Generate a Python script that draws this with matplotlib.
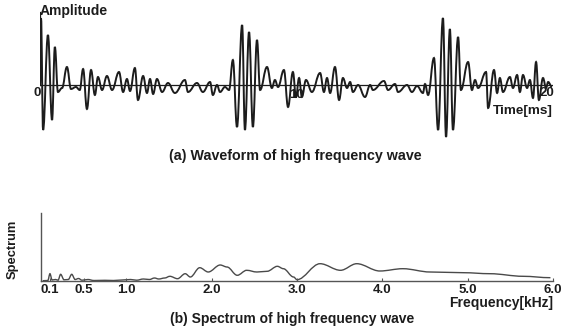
import matplotlib
matplotlib.use("Agg")
import matplotlib.pyplot as plt
from matplotlib.path import Path
from matplotlib.patches import PathPatch

# ---- (a) waveform: extremes (time ms, amplitude a.u.) ----
wave_t = [0.0, 0.04, 0.12, 0.31, 0.47, 0.58, 0.70, 0.86, 1.05, 1.21, 1.40, 1.55,
          1.68, 1.83, 1.99, 2.14, 2.26, 2.42, 2.61, 2.81, 3.08, 3.24, 3.39, 3.51,
          3.70, 3.82, 4.02, 4.17, 4.29, 4.41, 4.56, 4.76, 4.99, 5.26, 5.65, 5.77,
          6.12, 6.35, 6.63, 6.74, 6.90, 7.02, 7.21, 7.37,
          7.52, 7.68, 7.88, 7.99, 8.15, 8.30, 8.46, 8.58, 8.85, 9.04, 9.16, 9.28,
          9.51, 9.67, 9.86, 9.98, 10.10, 10.21, 10.37, 10.60, 10.92, 11.07, 11.19,
          11.31, 11.50, 11.66, 11.81, 11.97, 12.09, 12.20, 12.40, 12.67, 12.87,
          12.98, 13.41, 13.57, 13.84, 13.96, 14.31, 14.50, 14.70, 14.93, 15.01,
          15.13, 15.36, 15.52, 15.71, 15.83, 15.98, 16.10, 16.30, 16.41, 16.69,
          16.84, 16.96, 17.08, 17.39, 17.47, 17.70, 17.82, 17.93, 18.05, 18.32,
          18.44, 18.60, 18.71, 18.83, 18.99, 19.10, 19.22, 19.34, 19.45, 19.61,
          19.73, 19.81, 19.96]
wave_a = [0.0, 6.7, -4.5, 5.0, -3.5, 3.8, -0.7, -0.3, 1.8, -0.4, -0.2, -0.5,
          1.6, -2.4, 1.5, -1.0, 0.8, -0.5, 0.9, -0.5, 1.3, -0.7, 0.6, -0.6,
          1.7, -1.5, 0.9, -0.8, 0.6, -0.9, 0.6, -0.7, 0.2, -0.8, 0.5, -0.7,
          0.2, -0.7, 0.3, -1.0, 0.0, -0.7, -0.2, -0.5,
          2.5, -4.2, 6.0, -4.5, 5.3, -4.2, 4.5, -0.5, 1.8, -0.3, 0.5, -0.2,
          1.5, -2.2, 1.3, -1.2, 0.7, -1.2, 0.5, -0.7, 1.2, -0.7, 0.7,
          -0.8, 1.8, -1.5, 0.7, -0.3, 0.3, -0.7, 0.0, -1.2, 0.0,
          -0.5, 0.4, -0.5, 0.1, -0.7, 0.0, -0.7, -0.1, -0.8, 0.1,
          -1.0, 2.7, -4.5, 6.7, -5.2, 5.6, -4.5, 4.8, -0.5, 2.3,
          -0.5, 0.5, -0.3, 1.3, -2.3, 1.5, -0.8, 0.7, -0.7, 0.8,
          -0.3, 1.0, -0.7, 1.0, -0.3, 0.5, -1.3, 2.3, -1.5, 0.7,
          -0.3, 0.3, -0.2]

# ---- (b) spectrum (frequency kHz, level a.u.) ----
spec_f = [0.02, 0.08, 0.105, 0.13, 0.17, 0.20, 0.23, 0.27, 0.32, 0.36, 0.40, 0.44,
          0.48, 0.55, 0.62, 0.75, 0.85, 0.95, 1.05, 1.12, 1.20, 1.27, 1.33, 1.38,
          1.45, 1.51, 1.60, 1.69, 1.75, 1.86, 1.96, 2.10, 2.18, 2.30, 2.41, 2.53,
          2.65, 2.77, 2.84, 2.96, 3.00, 3.27, 3.51, 3.70, 3.97, 4.24, 4.56, 4.95,
          5.26, 5.65, 5.97]
spec_v = [0.3, 0.5, 7.3, 1.0, 1.5, 0.8, 6.7, 1.2, 1.5, 6.7, 1.5, 2.5,
          0.8, 1.5, 0.5, 0.7, 0.5, 1.0, 1.5, 0.8, 2.0, 1.5, 3.0, 2.0,
          3.0, 4.7, 2.3, 7.3, 4.0, 13.3, 9.0, 16.0, 14.0, 5.7, 10.7, 9.0,
          9.7, 14.7, 12.3, 4.0, 1.3, 17.3, 10.7, 17.3, 10.0, 12.3, 9.0, 8.3,
          7.3, 4.7, 3.3]

freq_ticks = [0.1, 0.5, 1.0, 2.0, 3.0, 4.0, 5.0, 6.0]
freq_labels = ["0.1", "0.5", "1.0", "2.0", "3.0", "4.0", "5.0", "6.0"]

W, H = 564, 331
INK = "#1c1c1c"
FONT = "Liberation Sans"


def smooth_path(xs, ys, k=0.4):
    # cubic segments with flat tangents at every extreme
    verts = [(xs[0], ys[0])]
    codes = [Path.MOVETO]
    for i in range(1, len(xs)):
        dx = xs[i] - xs[i - 1]
        verts += [(xs[i - 1] + k * dx, ys[i - 1]), (xs[i] - k * dx, ys[i]), (xs[i], ys[i])]
        codes += [Path.CURVE4] * 3
    return Path(verts, codes)


def ftext(x, y, s, **kw):
    fig.text(x / W, 1 - y / H, s, family=FONT, fontweight="bold", color=INK, **kw)


fig = plt.figure(figsize=(W / 100, H / 100), dpi=100)

# ---------- (a) waveform ----------
ax1 = fig.add_axes([40 / W, 1 - 145 / H, 513 / W, 140 / H])
ax1.set_xlim(0, 20)
ax1.set_ylim(-6, 8)
ax1.axis("off")
ax1.plot([-0.15, 20.0], [0, 0], color=INK, lw=0.9)
ax1.plot([0, 0], [0, 7.3], color=INK, lw=0.9)
ax1.add_patch(PathPatch(smooth_path(wave_t, wave_a), fill=False, ec=INK, lw=1.4))
ax1.text(-0.1, -0.25, "0", ha="center", va="top", fontsize=9.5, family=FONT,
         fontweight="bold", color=INK)
ax1.text(10.0, -0.35, "10", ha="center", va="top", fontsize=9.5, family=FONT,
         fontweight="bold", color=INK)
ax1.text(19.75, -0.15, "20", ha="center", va="top", fontsize=9.5, family=FONT,
         fontweight="bold", color=INK)

ftext(40, 11, "Amplitude", ha="left", va="center", fontsize=10)
ftext(553, 111, "Time[ms]", ha="right", va="center", fontsize=9.7)
ftext(295, 156, "(a) Waveform of high frequency wave", ha="center", va="center", fontsize=10.3)

# ---------- (b) spectrum ----------
ax2 = fig.add_axes([41 / W, 1 - 281 / H, 512 / W, 68 / H])
ax2.set_xlim(0, 6)
ax2.set_ylim(0, 68)
ax2.add_patch(PathPatch(smooth_path(spec_f, spec_v, k=0.35), fill=False, ec="#4a4a4a", lw=1.0))
for s in ["top", "right"]:
    ax2.spines[s].set_visible(False)
for s in ["left", "bottom"]:
    ax2.spines[s].set_color("#555555")
    ax2.spines[s].set_linewidth(1.0)
ax2.set_yticks([])
ax2.set_xticks(freq_ticks)
ax2.set_xticklabels(freq_labels, family=FONT, fontweight="bold", fontsize=9.5, color=INK)
ax2.tick_params(axis="x", direction="in", length=2.5, width=0.8, color="#555555", pad=2)

ftext(13, 249, "Spectrum", ha="center", va="center", fontsize=9.3, rotation=90)
ftext(553, 303, "Frequency[kHz]", ha="right", va="center", fontsize=10)
ftext(292, 319, "(b) Spectrum of high frequency wave", ha="center", va="center", fontsize=10)

fig.savefig("out.png", dpi=100, facecolor="white")
